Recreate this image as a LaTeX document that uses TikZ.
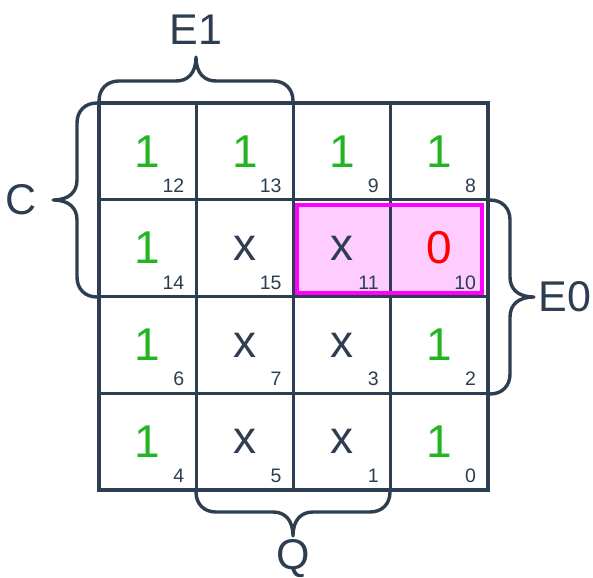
\documentclass[tikz,border=0pt]{standalone}
\usepackage{fontspec}
\setmainfont{Liberation Sans}
\usetikzlibrary{positioning}
\definecolor{kslate}{HTML}{2C3E50}
\definecolor{kgreen}{HTML}{22B522}
\definecolor{kred}{HTML}{FF0000}
\definecolor{kpink}{HTML}{FFCCFF}
\definecolor{kmagenta}{HTML}{FF00FF}
\tikzset{
  every picture/.style={line width=3.4pt, x=1pt, y=-1pt},
  cell/.style={draw=kslate, minimum width=97.25pt, minimum height=96.75pt, inner sep=0pt},
  val/.style={font=\fontsize{46}{46}\selectfont, inner sep=0pt},
  num/.style={font=\fontsize{19.5}{19.5}\selectfont, text=kslate, inner sep=0pt, anchor=base east},
  lbl/.style={font=\fontsize{43}{43}\selectfont, text=kslate, inner sep=0pt},
  curl/.style={draw=kslate, line width=3.4pt, line join=round},
  group/.style={draw=kmagenta, line width=3.4pt},
}
\begin{document}
\begin{tikzpicture}
  \useasboundingbox (0,0) rectangle (593,577);
  % a curly brace two cells long, from (x,y), turned by angle, tip named
  \newcommand{\curly}[4]{% x y angle tip
    \begin{scope}[shift={(#1,#2)}, rotate=#3]
      \draw[curl] (0,0) -- (0,-2) .. controls (0,-14) and (8,-22) .. (20,-22) -- (77,-22)
        .. controls (89,-22) and (97,-30) .. (97,-46) .. controls (97,-30) and (105,-22) .. (117,-22)
        -- (174,-22) .. controls (186,-22) and (194,-14) .. (194,-2) -- (194,0);
      \coordinate (#4) at (97,-46);
    \end{scope}}
  % the group of 11 and 10
  \fill[kpink] (297,205) rectangle (482,293);
  % cells: row/column/value/colour/number
  \foreach \r/\c/\v/\col/\n in {0/0/1/kgreen/12, 0/1/1/kgreen/13, 0/2/1/kgreen/9, 0/3/1/kgreen/8,
      1/0/1/kgreen/14, 1/1/x/kslate/15, 1/2/x/kslate/11, 1/3/0/kred/10,
      2/0/1/kgreen/6, 2/1/x/kslate/7, 2/2/x/kslate/3, 2/3/1/kgreen/2,
      3/0/1/kgreen/4, 3/1/x/kslate/5, 3/2/x/kslate/1, 3/3/1/kgreen/0}{
    \node[cell] (c\r\c) at (147.6+97.25*\c, 151.4+96.75*\r) {};
    \node[val, text=\col] (v\r\c) at (c\r\c.center) {\v};
    \node[num] (n\r\c) at ([xshift=-12pt, yshift=9pt] c\r\c.south east) {\n};}
  \draw[group] (297,205) rectangle (482,293);
  % braces and their variables
  \curly{99}{103}{0}{tipE1}
  \curly{99}{297}{90}{tipC}
  \curly{488}{200}{-90}{tipE0}
  \curly{390}{490}{180}{tipQ}
  \node[lbl, above=11pt of tipE1] (E1) {E1};
  \node[lbl, left=15pt of tipC] (C) {C};
  \node[lbl, right=3pt of tipE0] (E0) {E0};
  \node[lbl, below=2pt of tipQ] (Q) {Q};
\end{tikzpicture}
\end{document}
